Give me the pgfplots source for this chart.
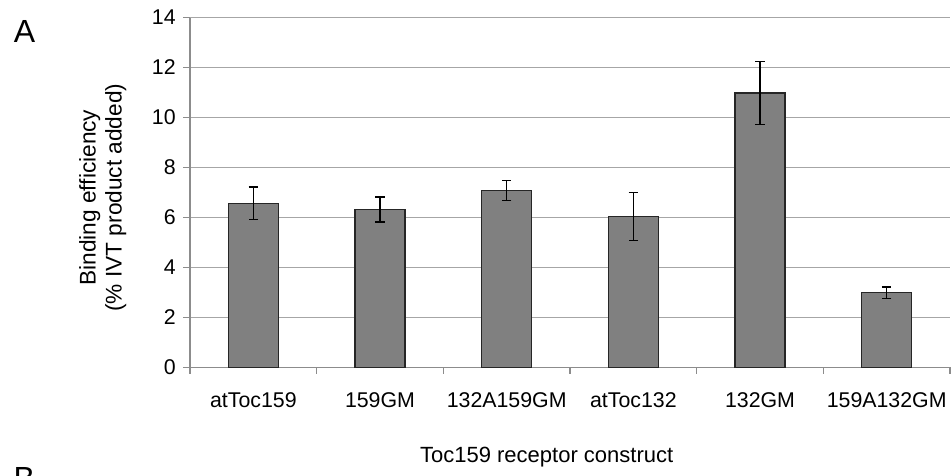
\documentclass[border=0pt]{standalone}
\usepackage{pgfplots}
\pgfplotsset{compat=1.18}
\usepackage{fontspec}
\setmainfont{Liberation Sans}
\definecolor{barfill}{HTML}{808080}
\definecolor{gridgray}{HTML}{A6A6A6}
\definecolor{axisgray}{HTML}{8C8C8C}
\begin{document}
\begin{tikzpicture}[x=1pt,y=1pt]
\useasboundingbox (0,0) rectangle (714,356.25);
\begin{axis}[
  at={(142.5pt,80.8pt)}, anchor=south west,
  scale only axis, width=570pt, height=262.3pt,
  xmin=-0.5, xmax=5.5, ymin=0, ymax=14,
  ytick={0,2,...,14},
  xtick={0,...,5},
  xticklabels={atToc159,159GM,132A159GM,atToc132,132GM,159A132GM},
  minor xtick={-0.5,0.5,...,5.5},
  axis x line*=bottom, axis y line*=left,
  axis line style={axisgray, line width=0.9pt},
  tick align=outside,
  major tick length=5.25pt,
  minor tick length=5pt,
  x tick style={draw=none},
  minor x tick style={draw=axisgray, line width=0.9pt},
  y tick style={draw=axisgray, line width=0.9pt},
  ymajorgrids,
  major grid style={gridgray, line width=0.9pt},
  /pgf/number format/assume math mode=true,
  ticklabel style={font=\fontsize{16}{18}\selectfont},
  xticklabel style={yshift=-10pt},
  yticklabel style={xshift=-2pt},
  clip=false,
]
\addplot[ybar, bar width=37.5pt, fill=barfill, draw=black!85, line width=0.9pt,
  error bars/.cd, y dir=both, y explicit,
  error bar style={black, line width=1pt},
  error mark options={rotate=90, mark size=3.6pt, line width=1pt, black}]
  coordinates {
    (0,6.56) +- (0,0.65)
    (1,6.32) +- (0,0.50)
    (2,7.07) +- (0,0.40)
    (3,6.04) +- (0,0.96)
    (4,10.98) +- (0,1.27)
    (5,2.98) +- (0,0.23)
  };
\end{axis}
\node[rotate=90, align=center, font=\fontsize{17}{19.5}\selectfont] at (77,208)
  {Binding efficiency\\(\% IVT product added)};
\node[font=\fontsize{16.5}{18}\selectfont] at (410,13.5) {Toc159 receptor construct};
\node[font=\fontsize{24}{28}\selectfont] at (18.4,332.6) {A};
\node[font=\fontsize{24}{28}\selectfont, anchor=north west, inner sep=0pt] at (10,5.8) {B};
\end{tikzpicture}
\end{document}
